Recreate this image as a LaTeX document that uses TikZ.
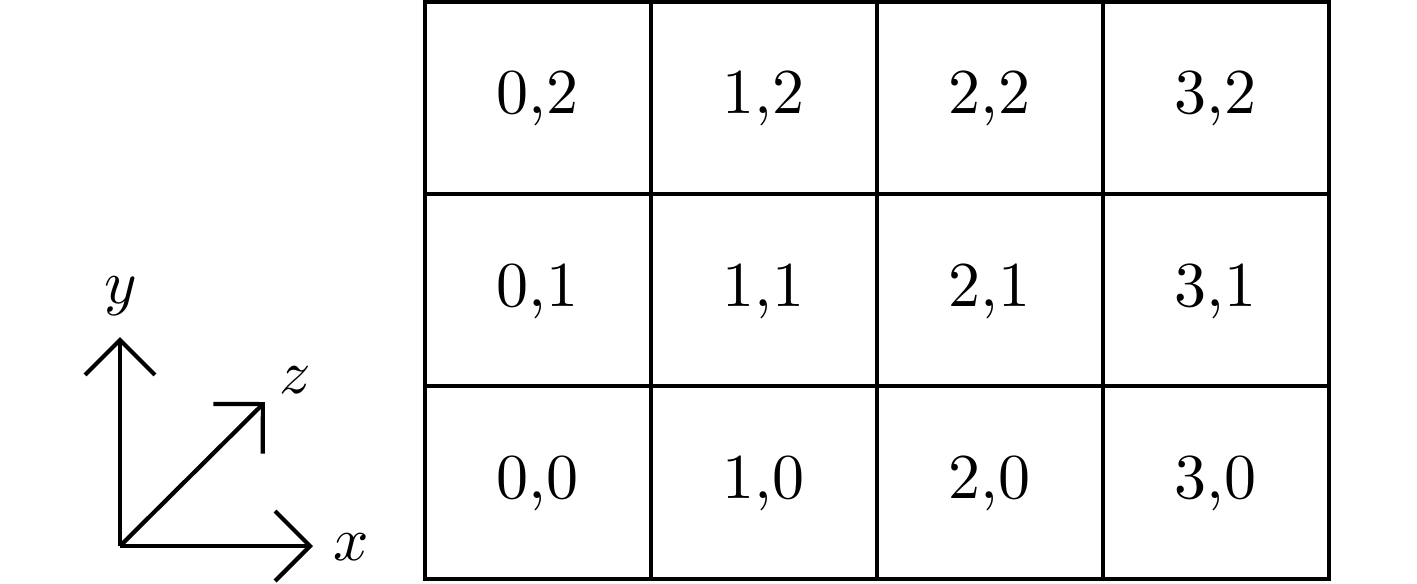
\documentclass[tikz,border=0pt]{standalone}
\usetikzlibrary{arrows.meta}
\begin{document}
\begin{tikzpicture}[x=0.25pt,y=-0.25pt,
  cell/.style={draw,line width=1pt,minimum width=56.5pt,minimum height=48.1pt,inner sep=0pt,
    text height=10.3pt,text depth=2.3pt},
  axis/.style={line width=1.05pt,-{Straight Barb[length=8.75pt,width=17.5pt]}},
  lab/.style={anchor=base,inner sep=0pt}]
\useasboundingbox (0,0) rectangle (1417,583);
\foreach \i/\cx in {0/537.5,1/763.5,2/989.5,3/1215.5}{
  \foreach \j/\cy in {2/97.9,1/290.1,0/482.3}{
    \node[cell] (c\i\j) at (\cx,\cy) {\scalebox{1.6}{\i,\j}};
  }
}
\coordinate (O) at (120,546);
\coordinate (X) at (313,546);
\coordinate (Y) at (120,337);
\coordinate (Z) at (265,402);
\draw[axis] (O) -- (X);
\draw[axis] (O) -- (Y);
\draw[axis] (O) -- (Z);
\node[lab] (lx) at (351,560) {\scalebox{1.55}{$x$}};
\node[lab] (ly) at (121,303) {\scalebox{1.55}{$y$}};
\node[lab] (lz) at (295,393) {\scalebox{1.55}{$z$}};
\end{tikzpicture}
\end{document}
